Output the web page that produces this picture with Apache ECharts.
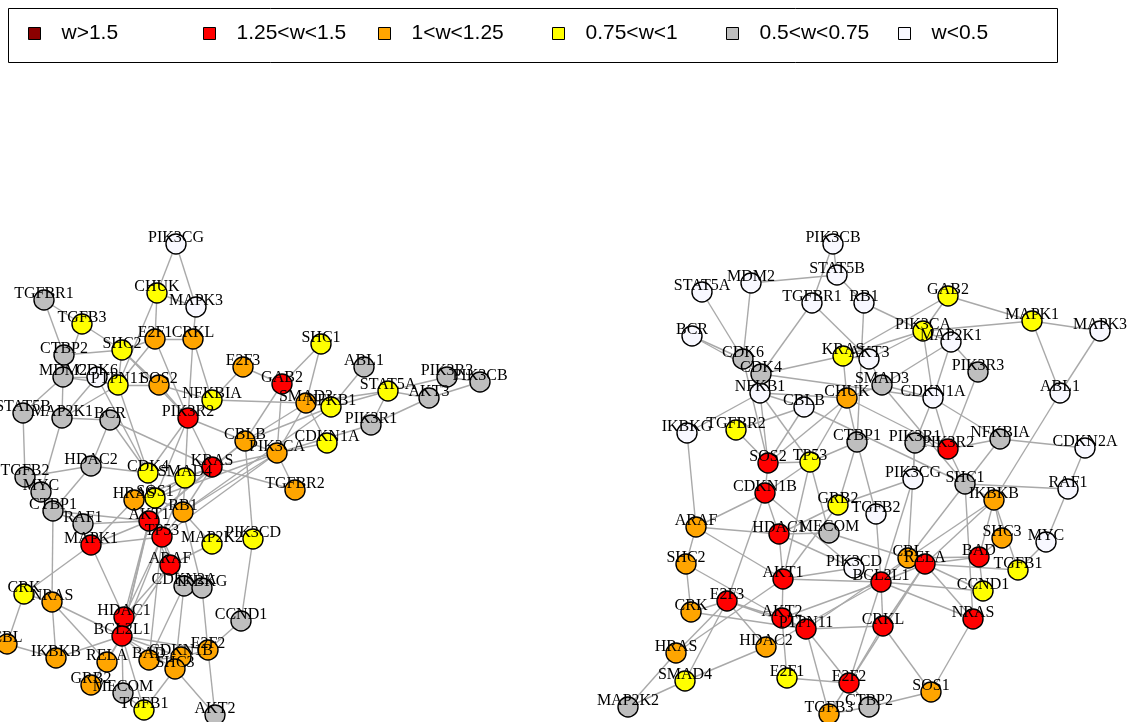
<!DOCTYPE html>
<html>
<head>
<meta charset="utf-8">
<script src="https://cdn.jsdelivr.net/npm/echarts@6/dist/echarts.min.js"></script>
<style>
  html, body { margin: 0; padding: 0; background: #fff; }
  #chart { width: 1136px; height: 722px; }
</style>
</head>
<body>
<div id="chart"></div>
<script>
// weight classes (legend)
const classNames = ['w>1.5', '1.25<w<1.5', '1<w<1.25', '0.75<w<1', '0.5<w<0.75', 'w<0.5'];
const classColors = ['#8B0000', '#FF0000', '#FFA500', '#FFFF00', '#BEBEBE', '#F8F8FF'];

// genes, same order for both networks
const genes = [
  'PIK3CG', 'CHUK', 'MAPK3', 'TGFBR1', 'TGFB3', 'E2F1', 'CRKL', 'SHC2', 'CTBP2', 'MDM2',
  'CDK6', 'PTPN11', 'SOS2', 'E2F3', 'NFKBIA', 'PIK3R2', 'STAT5B', 'MAP2K1', 'BCR', 'CBLB',
  'HDAC2', 'KRAS', 'SHC1', 'ABL1', 'GAB2', 'SMAD3', 'NFKB1', 'STAT5A', 'PIK3R3', 'PIK3CB',
  'AKT3', 'PIK3R1', 'CDKN1A', 'PIK3CA', 'TGFB2', 'CDK4', 'SMAD4', 'MYC', 'CTBP1', 'HRAS',
  'SOS1', 'RB1', 'RAF1', 'AKT1', 'TP53', 'MAPK1', 'MAP2K2', 'PIK3CD', 'ARAF', 'CDKN2A',
  'IKBKG', 'CRK', 'NRAS', 'CCND1', 'HDAC1', 'BCL2L1', 'CBL', 'E2F2', 'IKBKB', 'BAD',
  'CDKN1B', 'SHC3', 'RELA', 'GRB2', 'MECOM', 'TGFB1', 'AKT2', 'TGFBR2'
];

// left network layout + class index
const leftX = [
  176, 157, 196, 44, 82, 155, 193, 122, 64, 63,
  97, 118, 159, 243, 212, 188, 23, 62, 110, 245,
  91, 212, 321, 364, 282, 306, 331, 388, 447, 480,
  429, 371, 327, 277, 25, 148, 185, 41, 53, 134,
  155, 183, 83, 149, 162, 91, 212, 253, 170, 184,
  202, 24, 52, 241, 124, 122, 7, 208, 56, 149,
  181, 175, 107, 91, 123, 144, 215, 295
];
const leftY = [
  244, 293, 307, 300, 324, 339, 339, 350, 355, 377,
  377, 385, 385, 367, 400, 418, 413, 418, 420, 441,
  466, 467, 344, 367, 384, 403, 407, 391, 377, 382,
  398, 425, 443, 453, 477, 473, 478, 492, 511, 500,
  498, 512, 524, 521, 537, 545, 544, 539, 565, 586,
  588, 594, 602, 621, 617, 636, 644, 650, 658, 660,
  657, 669, 662, 685, 693, 710, 715, 490
];
const leftW = [
  5, 3, 5, 4, 3, 2, 2, 3, 4, 4,
  5, 3, 2, 2, 3, 1, 4, 4, 4, 2,
  4, 1, 3, 4, 1, 2, 3, 3, 4, 4,
  4, 4, 3, 2, 4, 3, 3, 4, 4, 2,
  3, 2, 4, 1, 1, 1, 3, 3, 1, 4,
  4, 3, 2, 4, 1, 1, 2, 2, 2, 2,
  2, 2, 2, 2, 4, 3, 4, 2
];

// right network layout + class index
const rightX = [
  913, 847, 1100, 812, 829, 787, 883, 686, 869, 751,
  743, 806, 768, 727, 1000, 948, 837, 951, 692, 804,
  766, 843, 965, 1060, 948, 882, 760, 702, 978, 833,
  869, 915, 933, 923, 876, 761, 685, 1046, 857, 676,
  931, 864, 1068, 783, 810, 1032, 628, 854, 696, 1085,
  687, 691, 973, 983, 779, 881, 908, 849, 994, 979,
  765, 1002, 925, 838, 829, 1018, 782, 736
];
const rightY = [
  479, 398, 331, 303, 714, 678, 626, 564, 707, 283,
  359, 629, 463, 601, 439, 449, 275, 342, 336, 407,
  647, 356, 484, 393, 296, 385, 393, 292, 372, 244,
  359, 443, 398, 331, 514, 374, 681, 542, 442, 653,
  692, 303, 489, 579, 462, 321, 707, 568, 527, 448,
  433, 612, 619, 591, 534, 582, 558, 683, 500, 557,
  493, 538, 564, 505, 533, 570, 618, 430
];
const rightW = [
  5, 2, 5, 5, 2, 3, 1, 2, 4, 5,
  4, 1, 1, 1, 4, 1, 5, 5, 5, 5,
  2, 3, 4, 5, 3, 4, 5, 5, 4, 5,
  5, 4, 5, 3, 5, 4, 3, 5, 4, 2,
  2, 5, 5, 1, 3, 3, 4, 5, 2, 5,
  5, 2, 1, 3, 1, 1, 2, 1, 2, 1,
  1, 2, 1, 3, 4, 3, 1, 3
];

const leftEdges = [
  'PIK3CG-CHUK', 'PIK3CG-MAPK3', 'CHUK-MAPK3', 'CHUK-E2F1', 'CHUK-PTPN11', 'MAPK3-CRKL',
  'TGFBR1-TGFB3', 'TGFBR1-CTBP2', 'TGFB3-SHC2', 'TGFB3-MDM2', 'CTBP2-SHC2', 'CTBP2-MDM2',
  'E2F1-CRKL', 'E2F1-SHC2', 'E2F1-PTPN11', 'E2F1-PIK3R2', 'CRKL-PIK3R2', 'CRKL-NFKBIA',
  'SHC2-PTPN11', 'SHC2-PIK3R2', 'SHC2-SOS2', 'MDM2-CDK6', 'MDM2-PTPN11', 'MDM2-STAT5B',
  'MDM2-MAP2K1', 'CDK6-MAP2K1', 'CDK6-CDK4', 'PTPN11-SOS2', 'PTPN11-MAP2K1', 'PTPN11-CDK4',
  'SOS2-PIK3R2', 'SOS2-NFKBIA', 'E2F3-NFKBIA', 'E2F3-GAB2', 'NFKBIA-PIK3R2', 'NFKBIA-SMAD3',
  'PIK3R2-CBLB', 'PIK3R2-KRAS', 'PIK3R2-SMAD4', 'PIK3R2-SOS1', 'PIK3R2-CDK4', 'BCR-MAP2K1',
  'BCR-HDAC2', 'BCR-KRAS', 'BCR-CDK4', 'STAT5B-TGFB2', 'MAP2K1-MYC', 'HDAC2-TGFB2',
  'HDAC2-CDK4', 'HDAC2-CTBP1', 'TGFB2-MYC', 'TGFB2-CTBP1', 'MYC-RAF1', 'CTBP1-RAF1',
  'RAF1-AKT1', 'CTBP1-AKT1', 'CTBP1-NRAS', 'MAPK1-CRK', 'MAPK1-HDAC1', 'MAPK1-HRAS',
  'MAPK1-AKT1', 'MAPK1-TP53', 'HRAS-SOS1', 'HRAS-KRAS', 'HRAS-AKT1', 'SOS1-AKT1',
  'SOS1-SMAD4', 'SOS1-RB1', 'SOS1-TP53', 'CDK4-SMAD4', 'CDK4-SOS1', 'SMAD4-KRAS',
  'SMAD4-RB1', 'SMAD4-TP53', 'KRAS-RB1', 'KRAS-CBLB', 'KRAS-PIK3CA', 'KRAS-TGFBR2',
  'KRAS-AKT1', 'CBLB-PIK3CA', 'CBLB-GAB2', 'CBLB-SMAD3', 'CBLB-NFKB1', 'CBLB-PIK3CD',
  'CBLB-AKT1', 'GAB2-PIK3CA', 'GAB2-SHC1', 'SHC1-SMAD3', 'SMAD3-NFKB1', 'SMAD3-STAT5A',
  'SMAD3-CDKN1A', 'SMAD3-PIK3CA', 'NFKB1-STAT5A', 'NFKB1-ABL1', 'NFKB1-RB1', 'STAT5A-PIK3R3',
  'STAT5A-AKT3', 'STAT5A-PIK3R1', 'PIK3R3-PIK3CB', 'AKT3-PIK3CB', 'PIK3R1-AKT3', 'PIK3R1-PIK3CA',
  'CDKN1A-PIK3CA', 'PIK3CA-TGFBR2', 'PIK3CA-SOS1', 'PIK3CA-RB1', 'PIK3CA-TP53', 'PIK3CD-CCND1',
  'MAP2K2-ARAF', 'MAP2K2-RB1', 'ARAF-TP53', 'ARAF-HDAC1', 'ARAF-BCL2L1', 'ARAF-AKT1',
  'CDKN2A-IKBKG', 'CDKN2A-TP53', 'CDKN2A-BAD', 'CDKN2A-SHC3', 'IKBKG-E2F2', 'IKBKG-RB1',
  'CCND1-E2F2', 'E2F2-AKT2', 'E2F2-CDKN1B', 'E2F2-BCL2L1', 'SHC3-AKT2', 'SHC3-TGFB1',
  'SHC3-BCL2L1', 'CDKN1B-BAD', 'CDKN1B-BCL2L1', 'BAD-BCL2L1', 'BAD-TP53', 'MECOM-BCL2L1',
  'MECOM-TGFB1', 'TGFB1-BCL2L1', 'GRB2-BCL2L1', 'GRB2-RELA', 'RELA-BCL2L1', 'RELA-NRAS',
  'IKBKB-NRAS', 'IKBKB-BCL2L1', 'IKBKB-CBL', 'CBL-CRK', 'NRAS-CRK', 'NRAS-BCL2L1',
  'HDAC1-BCL2L1', 'HDAC1-AKT1', 'HDAC1-TP53', 'BCL2L1-AKT1', 'BCL2L1-SOS1', 'BCL2L1-TP53',
  'AKT1-TP53', 'TP53-RB1'
];

const rightEdges = [
  'PIK3CB-STAT5B', 'PIK3CB-TGFBR1', 'STAT5B-MDM2', 'STAT5B-RB1', 'MDM2-CDK6', 'STAT5A-CDK6',
  'TGFBR1-CDK4', 'TGFBR1-AKT3', 'BCR-CDK6', 'BCR-CDK4', 'CDK6-CDK4', 'CDK6-SOS2',
  'CDK4-KRAS', 'CDK4-CDKN1A', 'NFKB1-IKBKG', 'NFKB1-CBLB', 'NFKB1-CHUK', 'NFKB1-TP53',
  'NFKB1-SOS2', 'CBLB-TGFBR2', 'CBLB-SOS2', 'CBLB-SHC1', 'CHUK-SOS2', 'CHUK-TP53',
  'CHUK-KRAS', 'CHUK-CTBP1', 'CHUK-PIK3R2', 'KRAS-PIK3CA', 'KRAS-AKT3', 'KRAS-GAB2',
  'AKT3-PIK3CA', 'AKT3-SMAD3', 'RB1-PIK3CA', 'RB1-CTBP1', 'TGFBR2-SOS2', 'IKBKG-ARAF',
  'CTBP1-TP53', 'CTBP1-GRB2', 'CTBP1-TGFB2', 'GAB2-PIK3CA', 'GAB2-MAPK1', 'PIK3CA-MAPK1',
  'PIK3CA-CDKN1A', 'MAP2K1-PIK3CA', 'MAP2K1-PIK3R3', 'MAP2K1-SMAD3', 'MAP2K1-CDKN1A', 'MAPK1-MAPK3',
  'MAPK1-ABL1', 'MAPK3-ABL1', 'PIK3R3-PIK3R2', 'SMAD3-CDKN1A', 'SMAD3-CHUK', 'CDKN1A-NFKBIA',
  'CDKN1A-PIK3R1', 'CDKN1A-PIK3R2', 'ABL1-IKBKB', 'NFKBIA-CDKN2A', 'NFKBIA-PIK3R2', 'NFKBIA-SHC1',
  'CDKN2A-RAF1', 'PIK3R1-PIK3R2', 'PIK3R1-CBL', 'PIK3R2-SHC1', 'SMAD3-SHC1', 'PIK3CG-GRB2',
  'PIK3CG-BCL2L1', 'PIK3CG-PIK3R1', 'SHC1-RAF1', 'SHC1-IKBKB', 'SHC1-CBL', 'SHC1-NRAS',
  'IKBKB-SHC3', 'IKBKB-TGFB1', 'IKBKB-RELA', 'IKBKB-BAD', 'IKBKB-CBL', 'RAF1-MYC',
  'MYC-TGFB1', 'SHC3-BAD', 'BAD-RELA', 'BAD-CCND1', 'BAD-CBL', 'RELA-TGFB1',
  'RELA-CCND1', 'RELA-NRAS', 'RELA-BCL2L1', 'RELA-CRKL', 'CBL-RELA', 'BCL2L1-CCND1',
  'BCL2L1-NRAS', 'BCL2L1-CRKL', 'CRKL-SOS1', 'CRKL-E2F2', 'CRKL-PTPN11', 'NRAS-SOS1',
  'SOS1-CTBP2', 'MECOM-CBL', 'TGFB2-BCL2L1', 'TP53-AKT1', 'TP53-MECOM', 'TP53-SOS2',
  'GRB2-HDAC1', 'GRB2-AKT1', 'CDKN1B-SOS2', 'CDKN1B-TP53', 'CDKN1B-ARAF', 'CDKN1B-E2F3',
  'CDKN1B-HDAC1', 'CDKN1B-PIK3CD', 'HDAC1-MECOM', 'HDAC1-PIK3CD', 'HDAC1-AKT1', 'AKT1-PIK3CD',
  'AKT1-BCL2L1', 'AKT1-AKT2', 'AKT1-HRAS', 'AKT1-ARAF', 'PIK3CD-BCL2L1', 'BCL2L1-CBL',
  'ARAF-SHC2', 'ARAF-HDAC1', 'SHC2-CRK', 'SHC2-AKT2', 'E2F3-CRK', 'E2F3-AKT2',
  'E2F3-PTPN11', 'E2F3-HDAC2', 'E2F3-HRAS', 'E2F3-SMAD4', 'CRK-PTPN11', 'AKT2-PTPN11',
  'AKT2-E2F1', 'AKT2-BCL2L1', 'PTPN11-E2F2', 'PTPN11-TGFB3', 'PTPN11-CBL', 'HDAC2-SMAD4',
  'HDAC2-BCL2L1', 'HRAS-MAP2K2', 'SMAD4-MAP2K2', 'E2F1-E2F2', 'E2F2-TGFB3', 'E2F2-CTBP2',
  'E2F2-BCL2L1', 'E2F2-RELA', 'TGFB3-CTBP2'
];

function buildNodes(xs, ys, ws) {
  return genes.map((g, i) => ({
    name: g,
    value: [xs[i], ys[i]],
    category: ws[i]
  }));
}
function buildLinks(edges) {
  return edges.map(e => {
    const p = e.split('-');
    return { source: p[0], target: p[1] };
  });
}

const categories = classNames.map((n, i) => ({
  name: n,
  itemStyle: { color: classColors[i] }
}));

function netSeries(id, xs, ys, ws, edges) {
  return {
    id: id,
    type: 'graph',
    coordinateSystem: 'cartesian2d',
    layout: 'none',
    symbol: 'circle',
    symbolSize: 20,
    categories: categories,
    data: buildNodes(xs, ys, ws),
    links: buildLinks(edges),
    itemStyle: { borderColor: '#000', borderWidth: 1.4 },
    lineStyle: { color: '#a9a9a9', width: 1.4, opacity: 1, curveness: 0 },
    label: {
      show: true,
      position: 'inside',
      offset: [0, -6],
      color: '#000',
      fontFamily: 'Liberation Serif',
      fontSize: 16
    },
    emphasis: { disabled: true },
    silent: true
  };
}

const legendCenters = [34, 209, 384, 558, 732, 904];

const chart = echarts.init(document.getElementById('chart'));
chart.setOption({
  animation: false,
  backgroundColor: '#fff',
  grid: { left: 0, right: 0, top: 0, bottom: 0 },
  xAxis: { type: 'value', min: 0, max: 1136, show: false },
  yAxis: { type: 'value', min: 0, max: 722, inverse: true, show: false },
  graphic: [{
    type: 'rect',
    shape: { x: 8.5, y: 8.5, width: 1049, height: 54 },
    style: { fill: 'none', stroke: '#000', lineWidth: 1 }
  }],
  legend: classNames.map((n, i) => ({
    data: [n],
    left: legendCenters[i] - 6,
    top: 23,
    padding: 0,
    icon: 'rect',
    itemWidth: 12,
    itemHeight: 12,
    selectedMode: false,
    itemStyle: { borderColor: '#000', borderWidth: 1 },
    textStyle: {
      fontFamily: 'Liberation Sans',
      fontSize: 21,
      color: '#000',
      padding: [0, 0, 0, 16]
    }
  })),
  series: [
    netSeries('left', leftX, leftY, leftW, leftEdges),
    netSeries('right', rightX, rightY, rightW, rightEdges)
  ]
});
</script>
</body>
</html>
